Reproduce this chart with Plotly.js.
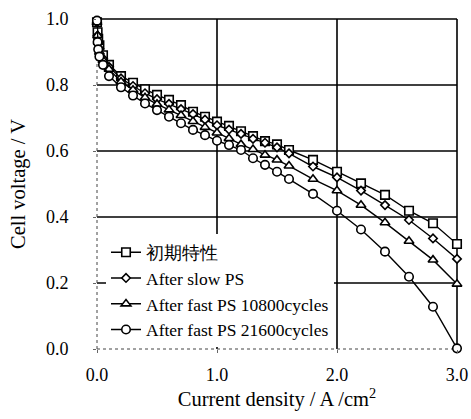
<!DOCTYPE html>
<html>
<head>
<meta charset="utf-8">
<script src="https://cdn.plot.ly/plotly-3.0.1.min.js"></script>
<style>html,body{margin:0;padding:0;background:#fff;}#chart{width:471px;height:419px;}</style>
</head>
<body>
<div id="chart"></div>
<script>
const currentDensity = [0, 0.005, 0.01, 0.02, 0.05, 0.1, 0.2, 0.3, 0.4, 0.5, 0.6, 0.7, 0.8, 0.9, 1.0, 1.1, 1.2, 1.3, 1.4, 1.5, 1.6, 1.8, 2.0, 2.2, 2.4, 2.6, 2.8, 3.0];
const initialV = [0.99, 0.96, 0.94, 0.92, 0.89, 0.861, 0.827, 0.807, 0.787, 0.770, 0.755, 0.739, 0.719, 0.704, 0.689, 0.676, 0.660, 0.645, 0.630, 0.620, 0.603, 0.573, 0.537, 0.502, 0.467, 0.419, 0.381, 0.318];
const slowPsV = [0.99, 0.95, 0.93, 0.91, 0.88, 0.855, 0.820, 0.797, 0.775, 0.757, 0.743, 0.727, 0.712, 0.695, 0.678, 0.665, 0.652, 0.637, 0.625, 0.611, 0.593, 0.553, 0.520, 0.480, 0.436, 0.391, 0.335, 0.273];
const fast10800V = [0.99, 0.95, 0.93, 0.90, 0.875, 0.848, 0.810, 0.785, 0.762, 0.742, 0.725, 0.708, 0.690, 0.672, 0.655, 0.638, 0.620, 0.605, 0.588, 0.573, 0.555, 0.515, 0.480, 0.436, 0.383, 0.327, 0.270, 0.197];
const fast21600V = [0.995, 0.93, 0.908, 0.886, 0.861, 0.827, 0.793, 0.768, 0.744, 0.724, 0.704, 0.684, 0.664, 0.648, 0.631, 0.618, 0.603, 0.578, 0.558, 0.537, 0.515, 0.470, 0.419, 0.362, 0.295, 0.219, 0.128, 0.002];
const seriesNames = ['初期特性', 'After slow PS', 'After fast PS 10800cycles', 'After fast PS 21600cycles'];
const xTickVals = [0, 1, 2, 3];
const xTickText = ['0.0', '1.0', '2.0', '3.0'];
const yTickVals = [0, 0.2, 0.4, 0.6, 0.8, 1.0];
const yTickText = ['0.0', '0.2', '0.4', '0.6', '0.8', '1.0'];
const gridX = [1, 2];
const gridY = [0.2, 0.4, 0.6, 0.8];

const serif = 'serif';
const symbols = ['square', 'diamond', 'triangle-up', 'circle'];
const sizes = [8.5, 6.5, 8.5, 8.5];
const ys = [initialV, slowPsV, fast10800V, fast21600V];

const traces = ys.map((y, i) => ({
  x: currentDensity, y: y, name: seriesNames[i], type: 'scatter', mode: 'lines+markers',
  line: {color: '#000', width: 1.4},
  marker: {symbol: symbols[i], size: sizes[i], color: '#fff', line: {color: '#000', width: 1.6}},
  cliponaxis: false
}));

const shapes = [];
gridX.forEach(v => shapes.push({type: 'line', xref: 'x', yref: 'paper', x0: v, x1: v, y0: 0, y1: 1, line: {color: '#000', width: 1.6}, layer: 'below'}));
gridY.forEach(v => shapes.push({type: 'line', xref: 'paper', yref: 'y', x0: 0, x1: 1, y0: v, y1: v, line: {color: '#000', width: 1.6}, layer: 'below'}));
shapes.push({type: 'line', xref: 'paper', yref: 'paper', x0: 0, x1: 1, y0: 1, y1: 1, line: {color: '#000', width: 1.6}, layer: 'below'});
shapes.push({type: 'line', xref: 'paper', yref: 'paper', x0: 1, x1: 1, y0: 0, y1: 1, line: {color: '#000', width: 1.6}, layer: 'below'});
shapes.push({type: 'line', xref: 'paper', yref: 'paper', x0: 0, x1: 0, y0: 0, y1: 1, line: {color: '#444', width: 1, dash: 'dot'}, layer: 'below'});
shapes.push({type: 'line', xref: 'paper', yref: 'paper', x0: 0, x1: 1, y0: 0, y1: 0, line: {color: '#444', width: 1, dash: 'dot'}, layer: 'below'});

const layout = {
  width: 471, height: 419,
  margin: {l: 97, r: 14, t: 19, b: 70},
  paper_bgcolor: '#fff', plot_bgcolor: '#fff',
  font: {family: serif, color: '#000', size: 18},
  showlegend: true,
  legend: {x: 0.025, y: 0.005, xanchor: 'left', yanchor: 'bottom', bgcolor: '#fff', borderwidth: 0,
           font: {family: serif, size: 17.5, color: '#000'}, tracegroupgap: 0},
  xaxis: {range: [0, 3], tickvals: xTickVals, ticktext: xTickText, showgrid: false, zeroline: false, showline: false,
          ticks: 'outside', ticklen: 3, tickcolor: '#666', ticklabelstandoff: 6,
          title: {text: 'Current density / A /cm<sup>2</sup>', font: {size: 20.5, family: serif}, standoff: 7}},
  yaxis: {range: [0, 1], tickvals: yTickVals, ticktext: yTickText, showgrid: false, zeroline: false, showline: false,
          ticks: 'outside', ticklen: 3, tickcolor: '#666', ticklabelstandoff: 21,
          title: {text: 'Cell voltage / V', font: {size: 20.5, family: serif}, standoff: 14}},
  shapes: shapes
};

Plotly.newPlot('chart', traces, layout, {staticPlot: true});
</script>
</body>
</html>
